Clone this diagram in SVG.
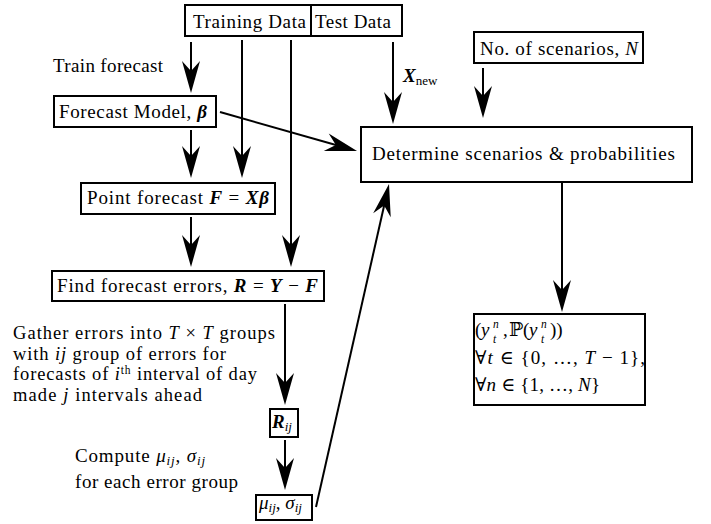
<svg xmlns="http://www.w3.org/2000/svg" width="711" height="524" viewBox="0 0 711 524">
<defs>
<style>
.t{font-family:"Liberation Serif","DejaVu Serif",serif;font-size:19px;fill:#000}
.g{font-size:18.5px}
.s{font-size:13px}
.ss{font-size:11.5px}
.box{fill:#fff;stroke:#000;stroke-width:2}
.mi{font-style:italic}
.mb{font-style:italic;font-weight:bold}
#connectors path{fill:none;stroke:#000;stroke-width:2;marker-end:url(#ah)}
</style>
<marker id="ah" markerUnits="userSpaceOnUse" markerWidth="40" markerHeight="24" viewBox="-25 -12 40 24" refX="0" refY="0" orient="auto">
<path d="M10,0 L-22,-9 L-12,0 L-22,9 Z" fill="#000"/>
</marker>
</defs>
<rect width="711" height="524" fill="#fff"/>

<g id="connectors">
<path d="M191,42 V83"/>
<path d="M242,40 V168"/>
<path d="M291,40 V257"/>
<path d="M191,130 V168"/>
<path d="M191,217 V257"/>
<path d="M220,112 L347.4,148.3"/>
<path d="M393,42 V114"/>
<path d="M483,68 V108"/>
<path d="M285,304 V395"/>
<path d="M285,440 V480"/>
<path d="M316,507 L386.8,193.8"/>
<path d="M562,183 V302"/>
</g>

<g id="data">
<rect class="box" x="185" y="5" width="217" height="31"/>
<line x1="311" y1="5" x2="311" y2="36" stroke="#000" stroke-width="2"/>
<text class="t" x="193" y="28" textLength="113" lengthAdjust="spacing">Training Data</text>
<text class="t" x="315" y="28" textLength="76" lengthAdjust="spacing">Test Data</text>
</g>

<g id="train-label">
<text class="t" x="53" y="72" textLength="110" lengthAdjust="spacing">Train forecast</text>
</g>

<g id="xnew-label">
<text class="t" x="403" y="82"><tspan class="mb">X</tspan><tspan class="s" dy="3">new</tspan></text>
</g>

<g id="forecast-model">
<rect class="box" x="54" y="96" width="162" height="31"/>
<text class="t" x="59" y="118" textLength="148" lengthAdjust="spacing">Forecast Model, <tspan class="mb">β</tspan></text>
</g>

<g id="point-forecast">
<rect class="box" x="81" y="183" width="194" height="31"/>
<text class="t" x="87" y="204" textLength="182" lengthAdjust="spacing">Point forecast <tspan class="mb">F</tspan> = <tspan class="mb">Xβ</tspan></text>
</g>

<g id="forecast-errors">
<rect class="box" x="52" y="271" width="272" height="30"/>
<text class="t" x="57" y="292" textLength="261" lengthAdjust="spacing">Find forecast errors, <tspan class="mb">R</tspan> = <tspan class="mb">Y</tspan> − <tspan class="mb">F</tspan></text>
</g>

<g id="gather-label">
<text class="t g" x="13" y="339" textLength="262" lengthAdjust="spacing">Gather errors into <tspan class="mi">T</tspan> × <tspan class="mi">T</tspan> groups</text>
<text class="t g" x="13" y="359.5" textLength="213" lengthAdjust="spacing">with <tspan class="mi">ij</tspan> group of errors for</text>
<text class="t g" x="13" y="380" textLength="244" lengthAdjust="spacing">forecasts of <tspan class="mi">i</tspan><tspan class="ss" dy="-6">th</tspan><tspan dy="6"> interval of day</tspan></text>
<text class="t g" x="13" y="400.5" textLength="189" lengthAdjust="spacing">made <tspan class="mi">j</tspan> intervals ahead</text>
</g>

<g id="rij">
<rect class="box" x="270" y="409" width="28" height="28"/>
<text class="t" x="272" y="428"><tspan class="mb">R</tspan><tspan class="s mi" dy="3">ij</tspan></text>
</g>

<g id="compute-label">
<text class="t" x="75" y="462" textLength="130" lengthAdjust="spacing">Compute <tspan class="mi">μ</tspan><tspan class="s mi" dy="3">ij</tspan><tspan dy="-3">, </tspan><tspan class="mi">σ</tspan><tspan class="s mi" dy="3">ij</tspan></text>
<text class="t" x="75" y="488" textLength="163" lengthAdjust="spacing">for each error group</text>
</g>

<g id="mu-sigma">
<rect class="box" x="256" y="495" width="56" height="25"/>
<text class="t" x="259" y="509"><tspan class="mi">μ</tspan><tspan class="s mi" dy="3">ij</tspan><tspan dy="-3">, </tspan><tspan class="mi">σ</tspan><tspan class="s mi" dy="3">ij</tspan></text>
</g>

<g id="scenarios-n">
<rect class="box" x="474" y="32" width="169" height="31"/>
<text class="t" x="480" y="55" textLength="158" lengthAdjust="spacing">No. of scenarios, <tspan class="mi">N</tspan></text>
</g>

<g id="determine">
<rect class="box" x="361" y="127" width="331" height="55"/>
<text class="t" x="372" y="160" textLength="303" lengthAdjust="spacing">Determine scenarios &amp; probabilities</text>
</g>

<g id="output">
<rect class="box" x="474" y="314" width="171" height="91"/>
<text class="t" y="336"><tspan x="475">(</tspan><tspan x="481" class="mi">y</tspan><tspan x="493" y="328" class="ss mi">n</tspan><tspan x="493" y="343" class="ss mi">t</tspan><tspan x="503" y="336">,</tspan><tspan x="509">ℙ</tspan><tspan x="523">(</tspan><tspan x="529" class="mi">y</tspan><tspan x="541" y="328" class="ss mi">n</tspan><tspan x="541" y="343" class="ss mi">t</tspan><tspan x="550" y="336">))</tspan></text>
<text class="t" x="475" y="364" textLength="170" lengthAdjust="spacing">∀<tspan class="mi">t</tspan> ∈ {0, …, <tspan class="mi">T</tspan> − 1},</text>
<text class="t" x="475" y="391" textLength="125" lengthAdjust="spacing">∀<tspan class="mi">n</tspan> ∈ {1, …, <tspan class="mi">N</tspan>}</text>
</g>
</svg>
